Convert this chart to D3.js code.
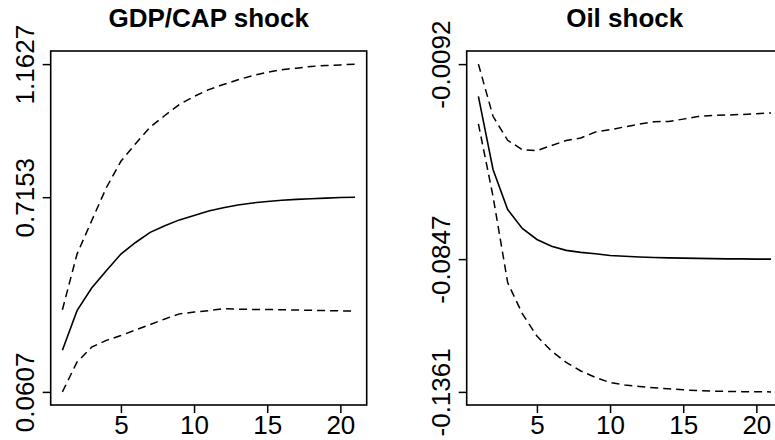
<!DOCTYPE html>
<html>
<head>
<meta charset="utf-8">
<script src="https://cdn.jsdelivr.net/npm/d3@7"></script>
<style>
  body { margin: 0; background: #fff; }
  svg { display: block; font-family: "Liberation Sans", Arial, Helvetica, sans-serif; }
</style>
</head>
<body>
<div id="chart"></div>
<script>
// horizon (periods after the shock)
const periods = [1, 2, 3, 4, 5, 6, 7, 8, 9, 10, 11, 12, 13, 14, 15, 16, 17, 18, 19, 20, 21];
const xTicks = [5, 10, 15, 20];

// GDP/CAP shock
const gdpTitle = 'GDP/CAP shock';
const gdpMean = [0.201, 0.334, 0.410, 0.468, 0.524, 0.563, 0.597, 0.619, 0.639, 0.654, 0.669,
                 0.680, 0.689, 0.696, 0.701, 0.705, 0.708, 0.710, 0.712, 0.714, 0.7153];
const gdpUpper = [0.337, 0.524, 0.636, 0.747, 0.836, 0.895, 0.951, 0.990, 1.027, 1.054, 1.077,
                  1.094, 1.110, 1.124, 1.135, 1.144, 1.149, 1.155, 1.158, 1.160, 1.1627];
const gdpLower = [0.0607, 0.161, 0.211, 0.234, 0.250, 0.269, 0.287, 0.306, 0.323, 0.329, 0.334,
                  0.340, 0.339, 0.338, 0.338, 0.337, 0.336, 0.335, 0.334, 0.333, 0.332];
const gdpTicks = [0.0607, 0.7153, 1.1627];

// Oil shock
const oilTitle = 'Oil shock';
const oilMean = [-0.0217, -0.0500, -0.0655, -0.0728, -0.0771, -0.0797, -0.0813, -0.0821, -0.0826, -0.0833, -0.0836,
                 -0.0839, -0.0841, -0.0842, -0.0843, -0.0844, -0.0845, -0.0846, -0.0846, -0.0847, -0.0847];
const oilUpper = [-0.0092, -0.0294, -0.0387, -0.0423, -0.0427, -0.0407, -0.0388, -0.0378, -0.0355, -0.0346, -0.0335,
                  -0.0324, -0.0315, -0.0314, -0.0305, -0.0295, -0.0291, -0.0289, -0.0287, -0.0284, -0.0281];
const oilLower = [-0.0323, -0.0604, -0.0938, -0.1058, -0.1145, -0.1203, -0.1247, -0.1280, -0.1305, -0.1325, -0.1334,
                  -0.1340, -0.1345, -0.1349, -0.1353, -0.1356, -0.1358, -0.1359, -0.1360, -0.1360, -0.1361];
const oilTicks = [-0.1361, -0.0847, -0.0092];

const width = 775, height = 440;
const boxW = 316, boxH = 354;
const tickFont = '26px';

const svg = d3.select('#chart')
  .append('svg')
  .attr('width', width)
  .attr('height', height);

function drawPanel(left, title, mean, upper, lower, yTicks) {
  const top = 51;
  const g = svg.append('g').attr('transform', `translate(${left},${top})`);

  // R style: data range padded by 4% on each side
  const xMin = d3.min(periods), xMax = d3.max(periods);
  const xPad = (xMax - xMin) * 0.04;
  const x = d3.scaleLinear().domain([xMin - xPad, xMax + xPad]).range([0, boxW]);

  const yMin = d3.min(yTicks), yMax = d3.max(yTicks);
  const yPad = (yMax - yMin) * 0.04;
  const y = d3.scaleLinear().domain([yMin - yPad, yMax + yPad]).range([boxH, 0]);

  const line = d3.line()
    .x((d, i) => x(periods[i]))
    .y((d) => y(d));

  // confidence bands
  [upper, lower].forEach((band) => {
    g.append('path')
      .datum(band)
      .attr('d', line)
      .attr('fill', 'none')
      .attr('stroke', '#000')
      .attr('stroke-width', 1.5)
      .attr('stroke-dasharray', '8,5');
  });

  g.append('path')
    .datum(mean)
    .attr('d', line)
    .attr('fill', 'none')
    .attr('stroke', '#000')
    .attr('stroke-width', 1.6);

  // frame
  g.append('rect')
    .attr('width', boxW)
    .attr('height', boxH)
    .attr('fill', 'none')
    .attr('stroke', '#000')
    .attr('stroke-width', 1.6);

  // x axis
  const xAxis = g.append('g')
    .attr('transform', `translate(0,${boxH})`)
    .call(d3.axisBottom(x).tickValues(xTicks).tickSize(8).tickFormat(d3.format('d')));
  xAxis.select('.domain').remove();
  xAxis.selectAll('line').attr('stroke-width', 1.5);
  xAxis.selectAll('text')
    .attr('y', 29)
    .attr('dy', 0)
    .attr('fill', '#000')
    .style('font-size', tickFont);

  // y axis, labels rotated like R's las = 0
  const yAxis = g.append('g')
    .call(d3.axisLeft(y).tickValues(yTicks).tickSize(8).tickFormat((d) => String(d)));
  yAxis.select('.domain').remove();
  yAxis.selectAll('line').attr('stroke-width', 1.5);
  yAxis.selectAll('text')
    .attr('x', 0)
    .attr('y', -17)
    .attr('dy', 0)
    .attr('transform', 'rotate(-90)')
    .attr('text-anchor', 'middle')
    .attr('fill', '#000')
    .style('font-size', tickFont);

  // title
  g.append('text')
    .attr('x', boxW / 2)
    .attr('y', -24)
    .attr('text-anchor', 'middle')
    .style('font-size', '26px')
    .style('font-weight', 'bold')
    .text(title);
}

drawPanel(50.7, gdpTitle, gdpMean, gdpUpper, gdpLower, gdpTicks);
drawPanel(466.7, oilTitle, oilMean, oilUpper, oilLower, oilTicks);
</script>
</body>
</html>
